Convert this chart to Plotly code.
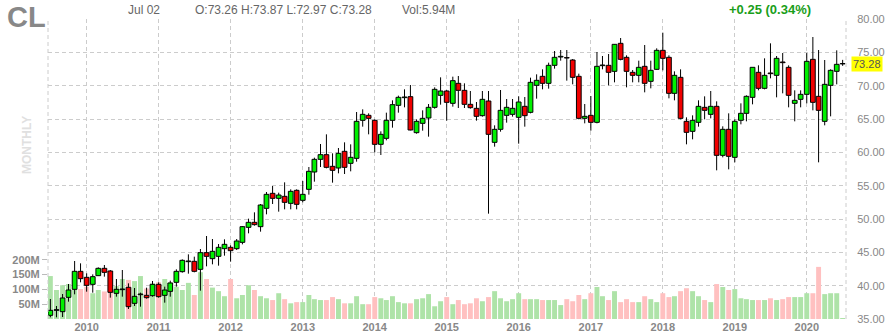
import pandas as pd
import plotly.graph_objects as go

months = pd.date_range("2009-07-01", "2020-07-01", freq="MS")

opens = [35.55, 36.3, 36.1, 38.25, 39.45, 42.15,
         41.25, 40.2, 41.5, 42.6, 42.2, 38.85, 39.4, 39.75, 37.35, 38.65, 38.55, 38.5,
         40.2, 38.55, 39.15, 40.5, 42.1, 43.6, 43.65, 42.45, 44.95, 44.05, 44.4, 45.55,
         45.75, 45.55, 46.5, 48.75, 49.5, 48.85, 51.6, 53.85, 53.1, 53.4, 52.35, 54.3,
         52.8, 54.45, 57.05, 58.95, 59.65, 57.9, 57.65, 60.15, 58.35, 59.1, 64.8, 65.55,
         64.8, 61.2, 62.1, 64.8, 67.05, 68.2, 68.35, 62.95, 64.35, 65.15, 66.75, 68.55,
         69.2, 67.35, 70.35, 69.3, 67.2, 66.6, 65.5, 67.7, 61.5, 63.45, 65.55, 65.7,
         65.25, 66.9, 66.0, 70.05, 71.4, 70.35, 73.05, 74.3, 74.2, 73.85, 71.4, 65.1,
         65.55, 64.5, 73.0, 73.05, 72.15, 76.35, 74.25, 72.0, 71.55, 72.9, 70.65, 72.45,
         75.3, 74.25, 68.85, 71.25, 64.65, 63.15, 64.5, 66.75, 65.7, 66.9, 59.55, 63.45,
         59.25, 64.8, 65.85, 68.25, 72.0, 69.6, 71.9, 71.55, 73.55, 72.75, 67.35, 67.95,
         68.7, 73.95, 68.4, 64.65, 70.05, 72.15, 73.26]

highs = [38.0, 36.95, 38.75, 40.25, 43.7, 43.35,
         41.85, 41.7, 42.75, 43.1, 42.35, 41.0, 42.35, 40.35, 39.65, 38.95, 39.7, 40.7,
         40.5, 39.85, 40.75, 42.45, 43.95, 44.7, 44.35, 45.5, 47.45, 47.0, 46.25, 46.95,
         46.05, 47.0, 48.95, 50.05, 51.0, 52.25, 54.05, 54.95, 53.95, 55.5, 54.45, 54.45,
         55.7, 57.8, 59.2, 61.25, 62.7, 59.85, 60.65, 61.5, 61.2, 66.05, 66.45, 65.85,
         64.95, 63.15, 65.95, 67.8, 68.5, 69.45, 70.1, 64.95, 66.3, 67.25, 69.75, 71.25,
         69.35, 71.35, 71.45, 70.35, 69.2, 67.55, 69.2, 69.2, 64.05, 69.35, 68.0, 68.0,
         68.4, 68.3, 71.2, 71.7, 72.45, 73.45, 75.2, 75.35, 75.35, 74.0, 71.8, 67.25,
         68.45, 75.05, 74.45, 74.75, 76.25, 77.15, 74.55, 72.35, 73.75, 76.1, 73.75, 75.6,
         77.95, 74.55, 72.15, 72.45, 65.25, 65.55, 67.8, 68.4, 69.2, 67.65, 63.9, 65.85,
         64.95, 67.35, 68.55, 72.75, 73.05, 74.1, 76.35, 74.45, 74.9, 73.05, 69.3, 69.3,
         74.9, 77.3, 75.35, 73.85, 72.45, 75.3, 73.87]

lows = [35.25, 35.25, 35.3, 37.6, 38.7, 40.5,
        39.1, 38.95, 41.45, 41.35, 38.2, 38.35, 38.35, 36.5, 36.95, 36.85, 38.05, 38.35,
        38.2, 37.45, 38.35, 39.85, 41.95, 41.8, 42.0, 39.25, 42.9, 43.2, 43.0, 44.5,
        43.6, 45.35, 46.2, 47.85, 49.0, 48.1, 50.7, 52.25, 51.1, 51.45, 51.45, 51.45,
        52.5, 53.65, 55.6, 57.8, 57.6, 55.45, 56.85, 56.75, 57.15, 58.6, 63.85, 62.7,
        60.0, 59.6, 61.8, 63.7, 65.95, 66.75, 63.3, 62.8, 63.25, 62.35, 66.55, 67.15,
        64.75, 66.85, 66.65, 66.65, 66.55, 64.75, 65.35, 50.8, 60.85, 63.1, 64.45, 65.35,
        61.3, 63.85, 65.85, 68.05, 69.45, 69.55, 72.55, 73.75, 70.75, 70.2, 64.95, 64.35,
        63.25, 64.35, 72.45, 70.05, 70.5, 73.8, 69.75, 70.5, 70.5, 69.0, 69.6, 72.35,
        72.3, 68.1, 67.8, 64.95, 61.2, 61.95, 63.85, 64.95, 65.1, 57.3, 59.25, 57.45,
        58.5, 64.2, 64.65, 67.2, 69.3, 69.45, 71.1, 68.25, 68.85, 66.75, 64.65, 66.75,
        67.35, 66.3, 58.5, 64.05, 65.4, 70.2, 72.97]

closes = [36.3, 36.4, 38.15, 39.35, 42.15, 41.05,
          40.05, 41.35, 42.6, 42.0, 39.0, 39.45, 39.5, 36.85, 38.4, 38.75, 38.2, 40.2,
          38.35, 39.35, 40.4, 42.15, 43.8, 43.7, 42.15, 44.95, 44.4, 45.15, 45.75, 46.2,
          45.25, 46.7, 48.85, 49.5, 49.15, 52.1, 53.7, 53.1, 53.6, 52.5, 54.15, 52.2,
          53.7, 57.15, 58.95, 59.65, 57.75, 57.3, 59.85, 57.75, 59.25, 64.65, 65.7, 65.1,
          61.2, 62.7, 64.8, 67.15, 68.25, 68.3, 63.35, 64.65, 65.1, 66.75, 69.45, 69.2,
          67.5, 70.75, 69.3, 67.2, 66.7, 65.4, 67.95, 62.7, 63.45, 66.3, 66.75, 66.6,
          67.55, 65.5, 70.5, 70.8, 70.35, 73.05, 74.25, 74.4, 74.15, 71.25, 65.1, 65.4,
          64.5, 72.9, 73.1, 72.0, 76.2, 73.95, 72.15, 71.55, 72.75, 70.35, 72.3, 75.3,
          74.1, 68.85, 71.55, 65.1, 63.0, 64.8, 66.9, 66.3, 66.9, 59.55, 63.45, 59.4,
          64.65, 65.85, 68.4, 72.75, 69.6, 71.55, 71.8, 74.1, 73.45, 68.55, 67.8, 68.7,
          73.65, 67.5, 66.3, 70.2, 72.3, 73.2, 73.28]

volumes_m = [145, 98, 114, 118, 100, 101,
             109, 87, 98, 93, 134, 111, 135, 132, 128, 145, 103, 120,
             124, 135, 124, 109, 98, 122, 81, 158, 135, 106, 94, 77,
             135, 70, 81, 114, 98, 77, 70, 64, 87, 67, 53, 57,
             57, 81, 67, 64, 64, 74, 67, 53, 53, 77, 50, 50,
             74, 70, 64, 77, 57, 53, 53, 67, 70, 84, 43, 60,
             74, 50, 64, 50, 53, 70, 60, 74, 94, 70, 60, 67,
             87, 67, 67, 67, 64, 64, 64, 47, 67, 60, 81, 67,
             87, 108, 77, 64, 94, 57, 67, 57, 57, 77, 67, 57,
             87, 74, 77, 94, 104, 94, 77, 64, 57, 118, 108, 98,
             101, 70, 67, 64, 64, 64, 70, 64, 67, 74, 74, 74,
             87, 87, 176, 84, 87, 87, 2]

year_ticks = [str(y) for y in range(2010, 2021)]
price_ticks = [35, 40, 45, 50, 55, 60, 65, 70, 75, 80]
vol_ticks_m = [50, 100, 150, 200]

symbol = "CL"
period = "MONTHLY"
header_date = "Jul 02"
header_ohlc = "O:73.26 H:73.87 L:72.97 C:73.28"
header_vol = "Vol:5.94M"
change_text = "+0.25 (0.34%)"
last_price = closes[-1]

GREEN = "#00f000"
RED = "#f00000"
VGREEN = "#aee3a8"
VRED = "#ffc0c0"
GRID = "#cccccc"
LABEL = "#888888"
FONT = "Liberation Sans, Arial, sans-serif"
DAY_MS = 24 * 3600 * 1000

up = [c >= o for o, c in zip(opens, closes)]
vol_colors = [VGREEN if u else VRED for u in up]
body_colors = [GREEN if u else RED for u in up]
body_base = [min(o, c) for o, c in zip(opens, closes)]
body_top = [max(o, c) for o, c in zip(opens, closes)]
body_len = [max(t - b, 0.06) for t, b in zip(body_top, body_base)]

# wicks drawn only outside the body so they never cross the coloured fill
wick_x, wick_y = [], []
for d, h, l, t, b in zip(months, highs, lows, body_top, body_base):
    wick_x += [d, d, None, d, d, None]
    wick_y += [b, l, None, t, h, None]

fig = go.Figure()
fig.add_trace(go.Bar(
    x=months, y=[v * 1e6 for v in volumes_m], marker_color=vol_colors,
    marker_line_width=0, width=25 * DAY_MS, yaxis="y", hoverinfo="skip",
))
fig.add_trace(go.Bar(
    x=months, y=body_len, base=body_base, marker_color=body_colors,
    marker_line=dict(color="black", width=1), width=24 * DAY_MS,
    yaxis="y2", hoverinfo="skip", opacity=1,
))
fig.add_trace(go.Scatter(
    x=wick_x, y=wick_y, mode="lines", line=dict(color="black", width=1),
    yaxis="y2", hoverinfo="skip", connectgaps=False,
))

fig.update_layout(
    width=886, height=336,
    margin=dict(l=48, r=40, t=19, b=17, autoexpand=False),
    paper_bgcolor="white", plot_bgcolor="white",
    showlegend=False, hovermode=False, barmode="overlay",
    font=dict(family=FONT, color=LABEL, size=11),
    xaxis=dict(
        type="date", range=["2009-06-19", "2020-07-18"], automargin=False,
        tickvals=[f"{y}-01-01" for y in year_ticks], ticktext=year_ticks,
        showgrid=True, gridcolor=GRID, griddash="4px,3px", gridwidth=1,
        tickfont=dict(size=11, color=LABEL, family=FONT, weight="bold"),
        ticks="", zeroline=False, showline=False,
    ),
    yaxis=dict(
        range=[0, 1013e6], side="left", showgrid=False, zeroline=False, automargin=False,
        tickvals=[v * 1e6 for v in vol_ticks_m], ticktext=[f"{v}M" for v in vol_ticks_m],
        ticks="outside", ticklen=5, tickcolor="#bbbbbb",
        tickfont=dict(size=11, color=LABEL, family=FONT, weight="bold"),
    ),
    yaxis2=dict(
        range=[35, 80], side="right", overlaying="y", automargin=False,
        tickvals=price_ticks, ticktext=[f"{p:.2f}" for p in price_ticks],
        showgrid=True, gridcolor=GRID, griddash="4px,3px", gridwidth=1,
        zeroline=False, ticks="outside", ticklen=8, tickcolor="rgba(0,0,0,0)",
        tickfont=dict(size=11, color=LABEL, family=FONT),
    ),
    shapes=[
        dict(type="line", xref="paper", yref="paper", x0=0, x1=0, y0=0, y1=1,
             line=dict(color=GRID, width=1, dash="4px,3px")),
        dict(type="line", xref="paper", yref="paper", x0=1, x1=1, y0=0, y1=1,
             line=dict(color=GRID, width=1, dash="4px,3px")),
    ],
)

def px_x(px):
    return (px - 48) / 798.0

def px_y(py):
    return (319 - py) / 300.0

annots = [
    dict(text=f"<b>{symbol}</b>", x=px_x(26), y=px_y(0), font=dict(size=29, color="#888888"),
         xanchor="center", yanchor="top", borderpad=0),
    dict(text=f"<b>{period}</b>", x=px_x(27), y=px_y(145), textangle=-90,
         font=dict(size=12, color="#e0e0e0"), xanchor="center", yanchor="middle"),
    dict(text=header_date, x=px_x(144), y=px_y(10), font=dict(size=12, color="#666666"),
         xanchor="center", yanchor="middle"),
    dict(text=header_ohlc, x=px_x(193), y=px_y(10), font=dict(size=12, color="#666666"),
         xanchor="left", yanchor="middle"),
    dict(text=header_vol, x=px_x(400), y=px_y(10), font=dict(size=12, color="#666666"),
         xanchor="left", yanchor="middle"),
    dict(text=f"<b>{change_text}</b>", x=px_x(770), y=px_y(10),
         font=dict(size=13, color="#1a9e1a"), xanchor="center", yanchor="middle"),
]
for a in annots:
    a.update(xref="paper", yref="paper", showarrow=False)
    fig.add_annotation(**a)

fig.add_annotation(
    text=f"{last_price:.2f}", xref="paper", yref="y2", x=1, y=last_price,
    xanchor="left", yanchor="middle", xshift=5, showarrow=False,
    bgcolor="#ffff00", borderpad=1, font=dict(size=11, color="#555555"),
)

fig.write_html("out.html")
